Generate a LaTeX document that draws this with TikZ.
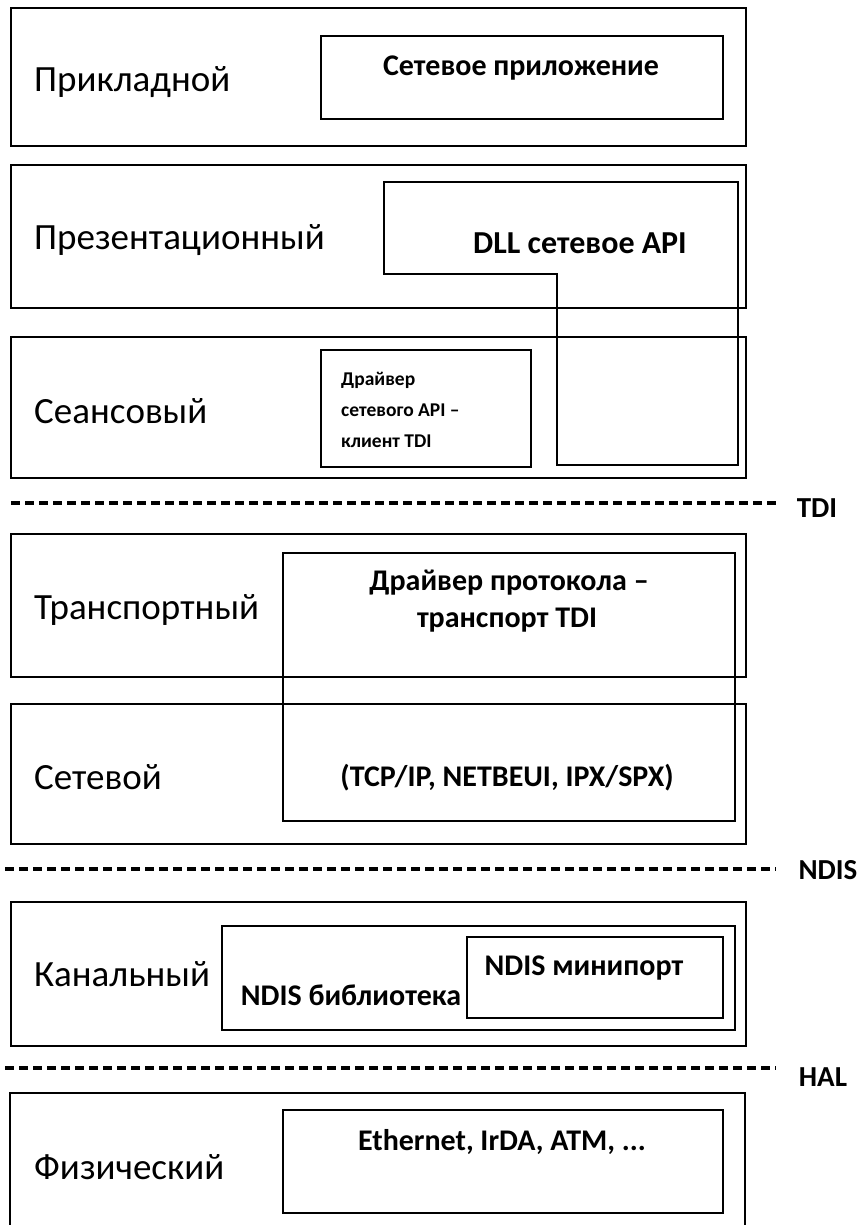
\documentclass[tikz,border=0pt]{standalone}
\usepackage{fontspec}
\setmainfont{Carlito}
\usetikzlibrary{calc}
\begin{document}
\begin{tikzpicture}[x=1pt,y=-1pt,
  layer/.style={draw, line width=1.6pt, anchor=north west, inner sep=0pt},
  inbox/.style={draw, line width=1.6pt, anchor=north west, inner sep=0pt},
  lname/.style={anchor=west, font=\fontsize{37}{42}\selectfont, inner sep=0pt},
  itext/.style={font=\bfseries\fontsize{30}{34}\selectfont, inner sep=0pt},
  ctext/.style={font=\bfseries\fontsize{19.5}{24}\selectfont, anchor=base west, inner sep=0pt},
  sep/.style={line width=3.5pt, dash pattern=on 9pt off 5pt},
  septext/.style={font=\bfseries\fontsize{29}{33}\selectfont, inner sep=0pt}]
\useasboundingbox (0,0) rectangle (859,1225);
% layers
\node[layer, minimum width=735pt, minimum height=138pt] (L1) at (10,7) {};
\node[layer, minimum width=735pt, minimum height=143pt] (L2) at (10,164) {};
\node[layer, minimum width=735pt, minimum height=141pt] (L3) at (10,336) {};
\node[layer, minimum width=735pt, minimum height=143pt] (L4) at (10,533) {};
\node[layer, minimum width=735pt, minimum height=140pt] (L5) at (10,703) {};
\node[layer, minimum width=735pt, minimum height=144pt] (L6) at (10,901) {};
\coordinate (L7a) at (10,1226);
\coordinate (L7b) at (10,1093);
\coordinate (L7c) at (745,1093);
\coordinate (L7d) at (745,1226);
\draw[line width=1.6pt] (L7a) -- (L7b) -- (L7c) -- (L7d);
% layer names
\node[lname] (n1) at (34,82) {Прикладной};
\node[lname] (n2) at (34,240) {Презентационный};
\node[lname] (n3) at (34,411) {Сеансовый};
\node[lname] (n4) at (34,610) {Транспортный};
\node[lname] (n5) at (34,777) {Сетевой};
\node[lname] (n6) at (34,974) {Канальный};
\node[lname] (n7) at (34,1167) {Физический};
% application
\node[inbox, minimum width=402pt, minimum height=83pt] (app) at (320,35) {};
\node[itext] (appt) at (521,68) {Сетевое приложение};
% DLL
\coordinate (d1) at (384,182);
\coordinate (d2) at (738,182);
\coordinate (d3) at (738,465);
\coordinate (d4) at (557,465);
\coordinate (d5) at (557,274);
\coordinate (d6) at (384,274);
\draw[line width=1.6pt] (d1) -- (d2) -- (d3) -- (d4) -- (d5) -- (d6) -- cycle;
\node[itext, font=\bfseries\fontsize{32}{36}\selectfont] (dllt) at (580,243) {DLL сетевое API};
% TDI client
\node[inbox, minimum width=210pt, minimum height=117pt] (cl) at (320,349) {};
\node[ctext] (clt1) at (341,385) {Драйвер};
\node[ctext] (clt2) at (341,416) {сетевого API –};
\node[ctext] (clt3) at (341,447) {клиент TDI};
% TDI separator
\coordinate (t1) at (11,503);
\coordinate (t2) at (776,503);
\draw[sep] (t1) -- (t2);
\node[septext] (tdi) at (817,508) {TDI};
% protocol driver
\node[inbox, minimum width=452pt, minimum height=268pt] (pr) at (282,552) {};
\node[itext] (prt1) at (509,583) {Драйвер протокола –};
\node[itext] (prt2) at (507,620) {транспорт TDI};
\node[itext] (prt3) at (507,778) {(TCP/IP, NETBEUI, IPX/SPX)};
% NDIS separator
\coordinate (s1) at (5,869);
\coordinate (s2) at (776,869);
\draw[sep] (s1) -- (s2);
\node[septext] (ndis) at (828,870) {NDIS};
% NDIS library / miniport
\node[inbox, minimum width=513pt, minimum height=104pt] (lib) at (221,925) {};
\node[inbox, minimum width=256pt, minimum height=81pt] (mp) at (466,936) {};
\node[itext] (mpt) at (584,968) {NDIS минипорт};
\node[itext] (libt) at (351,995) {NDIS библиотека};
% HAL separator
\coordinate (h1) at (5,1068);
\coordinate (h2) at (776,1068);
\draw[sep] (h1) -- (h2);
\node[septext] (hal) at (823,1077) {HAL};
% physical
\node[inbox, minimum width=440pt, minimum height=103pt] (eth) at (282,1109) {};
\node[itext] (etht) at (502,1142) {Ethernet, IrDA, ATM, ...};
\end{tikzpicture}
\end{document}
